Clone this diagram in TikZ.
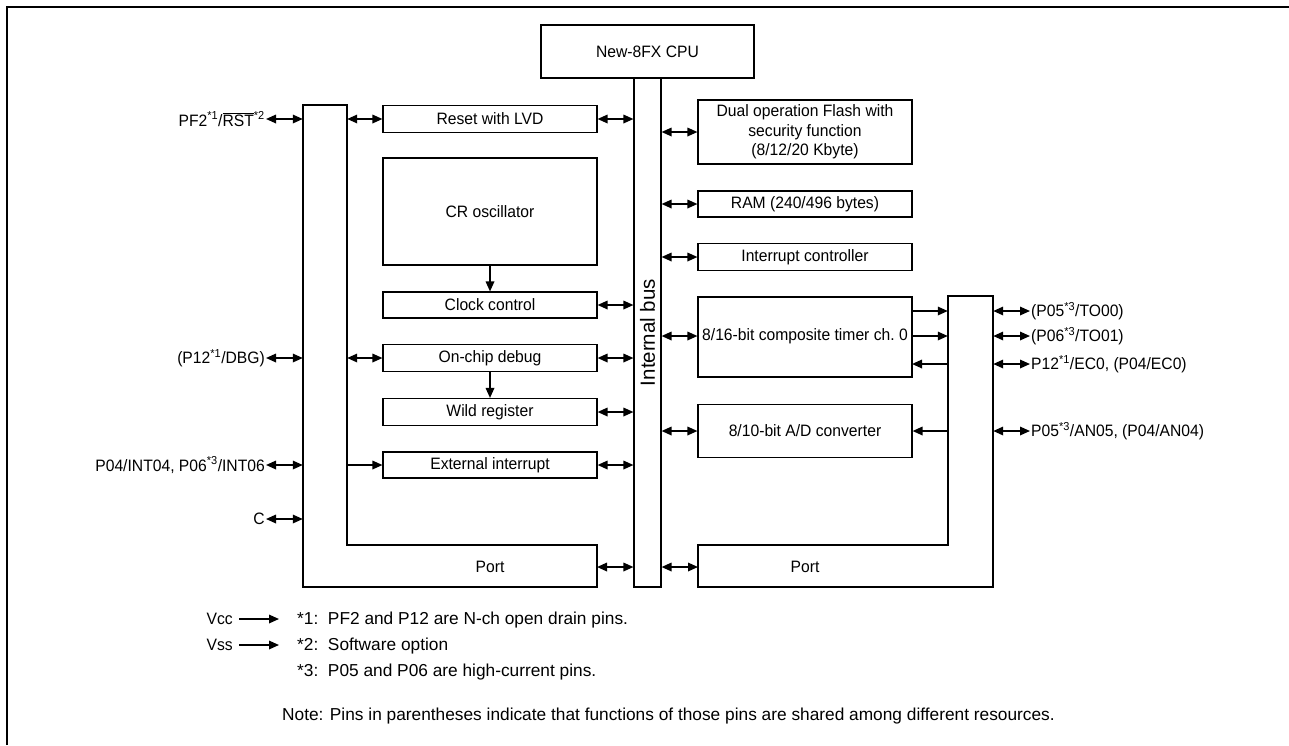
\documentclass[tikz,border=0pt]{standalone}
\usepackage{fontspec}
\setmainfont{Liberation Sans}
\newfontfamily\condfont{Liberation Sans}[FakeStretch=0.95]
\usetikzlibrary{arrows.meta}
\newcommand{\lblfont}{\condfont\fontsize{16.5}{19.5}\selectfont}
\newcommand{\busfont}{\fontsize{20.5}{22}\selectfont}
\newcommand{\notefont}{\fontsize{17.3}{19}\selectfont}
\newcommand{\sst}[1]{\textsuperscript{*#1}}
\tikzset{
  blk/.style={draw, line width=1.1pt, inner sep=0pt, align=center, font=\lblfont},
  ghost/.style={inner sep=0pt, minimum width=#1},
  pin/.style={inner sep=1pt, font=\lblfont},
  note/.style={inner sep=0pt, anchor=west, font=\notefont},
  dbl/.style={{Triangle[length=10pt,width=8.5pt]}-{Triangle[length=10pt,width=8.5pt]}, line width=1.7pt},
  sgl/.style={-{Triangle[length=10pt,width=8.5pt]}, line width=1.7pt},
  outl/.style={draw, line width=1.1pt},
}
\begin{document}
\begin{tikzpicture}[x=1pt,y=-1pt]
\useasboundingbox (0,0) rectangle (1289,745);
\fill[white] (0,0) rectangle (1289,745);
% frame
\draw[line width=1.8pt] (7,745) -- (7,7) -- (1289,7);

% CPU and bus
\node[blk, minimum width=213, minimum height=53] (cpu) at (647.5,51.5) {New-8FX CPU};
\node[blk, minimum width=27, minimum height=509] (bus) at (647.5,332.5) {};
\node[rotate=90, font=\busfont, inner sep=0pt] (bustxt) at (bus.center) {Internal bus};

% left column
\node[blk, minimum width=214, minimum height=27] (reset) at (490,119) {Reset with LVD};
\node[blk, minimum width=214, minimum height=107] (cr) at (490,211.5) {CR oscillator};
\node[blk, minimum width=214, minimum height=26] (clk) at (490,305) {Clock control};
\node[blk, minimum width=214, minimum height=27] (dbg) at (490,358) {On-chip debug};
\node[blk, minimum width=214, minimum height=27] (wild) at (490,412) {Wild register};
\node[blk, minimum width=214, minimum height=26] (ext) at (490,465) {External interrupt};

% right column
\node[blk, minimum width=214, minimum height=64] (flash) at (805,132) {Dual operation Flash with\\security function\\(8/12/20 Kbyte)};
\node[blk, minimum width=214, minimum height=26] (ram) at (805,204) {RAM (240/496 bytes)};
\node[blk, minimum width=214, minimum height=27] (intc) at (805,257) {Interrupt controller};
\node[blk, minimum width=214, minimum height=80] (timer) at (805,337) {};
\node[font=\lblfont, inner sep=0pt] (timertxt) at (805,336) {8/16-bit composite timer ch.~0};
\node[blk, minimum width=214, minimum height=53] (adc) at (805,431) {8/10-bit A/D converter};

% left port (L shape)
\draw[outl] (303,105) -- (347,105) -- (347,545) -- (597,545) -- (597,587) -- (303,587) -- cycle;
\node[ghost=44, minimum height=482] (lportv) at (325,346) {};
\node[font=\lblfont] (lport) at (490,567) {Port};
\coordinate (lportr) at (597,567);

% right port (L shape)
\draw[outl] (698,545) -- (948,545) -- (948,296) -- (993,296) -- (993,587) -- (698,587) -- cycle;
\node[ghost=45, minimum height=291] (rportv) at (970.5,441.5) {};
\node[font=\lblfont] (rport) at (805,567) {Port};
\coordinate (rportl) at (698,567);

% left pins
\node[pin, anchor=east] (pf2) at (266,119) {PF2\sst1/$\overline{\mbox{RST}}$\sst2};
\node[pin, anchor=east] (p12) at (266,358) {(P12\sst1/DBG)};
\node[pin, anchor=east] (p04) at (266,465) {P04/INT04, P06\sst3/INT06};
\node[pin, anchor=east] (cpin) at (266,519) {C};
\draw[dbl] (pf2.east) -- (pf2.east -| lportv.west);
\draw[dbl] (p12.east) -- (p12.east -| lportv.west);
\draw[dbl] (p04.east) -- (p04.east -| lportv.west);
\draw[dbl] (cpin.east) -- (cpin.east -| lportv.west);

% left port to blocks
\draw[dbl] (lportv.east |- reset.west) -- (reset.west);
\draw[dbl] (lportv.east |- dbg.west) -- (dbg.west);
\draw[sgl] (lportv.east |- ext.west) -- (ext.west);

% blocks to bus
\draw[dbl] (reset.east) -- (reset.east -| bus.west);
\draw[dbl] (clk.east) -- (clk.east -| bus.west);
\draw[dbl] (dbg.east) -- (dbg.east -| bus.west);
\draw[dbl] (wild.east) -- (wild.east -| bus.west);
\draw[dbl] (ext.east) -- (ext.east -| bus.west);
\draw[dbl] (lportr) -- (lportr -| bus.west);

% internal arrows
\draw[sgl] (cr.south) -- (clk.north);
\draw[sgl] (dbg.south) -- (wild.north);

% bus to right blocks
\draw[dbl] (bus.east |- flash.west) -- (flash.west);
\draw[dbl] (bus.east |- ram.west) -- (ram.west);
\draw[dbl] (bus.east |- intc.west) -- (intc.west);
\draw[dbl] (bus.east |- timertxt.west) -- (timer.west |- timertxt.west);
\draw[dbl] (bus.east |- adc.west) -- (adc.west);
\draw[dbl] (bus.east |- rportl) -- (rportl);

% timer / adc to right port
\coordinate (t1) at (912,311);
\coordinate (t2) at (912,336);
\coordinate (t3) at (912,364);
\draw[sgl] (t1) -- (t1 -| rportv.west);
\draw[sgl] (t2) -- (t2 -| rportv.west);
\draw[sgl] (t3 -| rportv.west) -- (t3);
\draw[sgl] (adc.east -| rportv.west) -- (adc.east);

% right pins
\node[pin, anchor=west] (to00) at (1030,311) {(P05\sst3/TO00)};
\node[pin, anchor=west] (to01) at (1030,336) {(P06\sst3/TO01)};
\node[pin, anchor=west] (ec0) at (1030,364) {P12\sst1/EC0, (P04/EC0)};
\node[pin, anchor=west] (an05) at (1030,431) {P05\sst3/AN05, (P04/AN04)};
\draw[dbl] (to00.west -| rportv.east) -- (to00.west);
\draw[dbl] (to01.west -| rportv.east) -- (to01.west);
\draw[dbl] (ec0.west -| rportv.east) -- (ec0.west);
\draw[dbl] (an05.west -| rportv.east) -- (an05.west);

% power
\node[pin, anchor=east] (vcc) at (234,619) {Vcc};
\node[pin, anchor=east] (vss) at (234,645) {Vss};
\coordinate (vcce) at (279,619);
\coordinate (vsse) at (279,645);
\draw[sgl] (vcc.east) ++(5,0) -- (vcce);
\draw[sgl] (vss.east) ++(5,0) -- (vsse);

% notes
\node[note] (n1) at (297,620) {*1:\ \ PF2 and P12 are N-ch open drain pins.};
\node[note] (n2) at (297,646) {*2:\ \ Software option};
\node[note] (n3) at (297,672) {*3:\ \ P05 and P06 are high-current pins.};
\node[note] (n4) at (282,716) {Note: Pins in parentheses indicate that functions of those pins are shared among different resources.};
\end{tikzpicture}
\end{document}
